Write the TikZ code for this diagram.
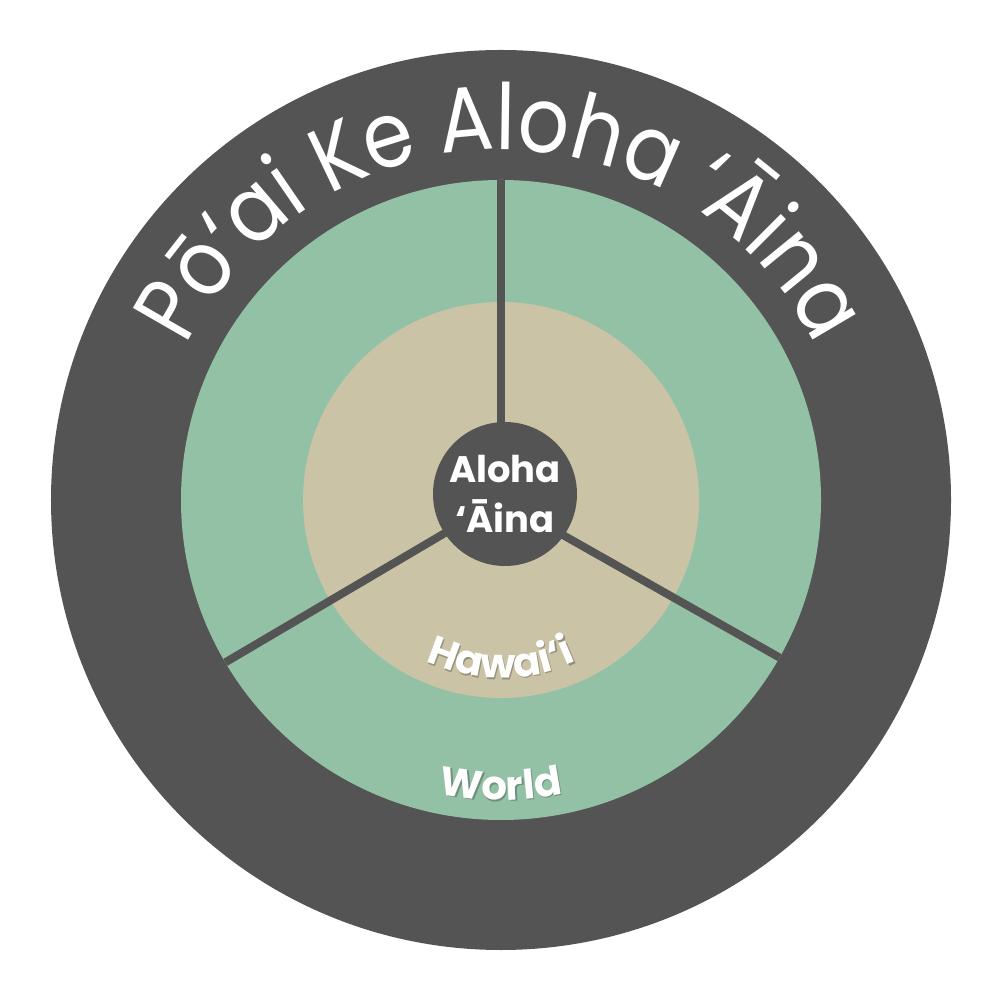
\documentclass[tikz,border=0pt]{standalone}
\usepackage{fontspec}
\setmainfont{Poppins}
\newfontfamily\titlefont[FakeStretch=0.88]{Poppins}
\usetikzlibrary{decorations.text}
\definecolor{ringdark}{HTML}{545454}
\definecolor{worldgreen}{HTML}{93C1A5}
\definecolor{hawaiibeige}{HTML}{CAC3A6}
\begin{document}
\begin{tikzpicture}[
  disc/.style={circle, inner sep=0pt, minimum size=#1},
  spoke/.style={draw=ringdark, line width=0.08cm},
  arctext/.style={decorate, decoration={text along path, text align=center, text={#1}}}
]
\useasboundingbox (-5.01,-5.00) rectangle (4.99,5.00);
\node[disc=9cm, fill=ringdark] (outer) at (0,0) {};
\node[disc=6.4cm, fill=worldgreen] (world) at (0,0) {};
\node[disc=3.96cm, fill=hawaiibeige] (hawaii) at (0,0) {};
\coordinate (hub) at (0,0);
\coordinate (s1) at (90:3.2);
\coordinate (s2) at (210.5:3.2);
\coordinate (s3) at (330.5:3.2);
\draw[spoke] (hub) -- (s1);
\draw[spoke] (hub) -- (s2);
\draw[spoke] (hub) -- (s3);
\node[disc=1.44cm, fill=ringdark, text=white, align=center,
      font=\bfseries\fontsize{10.5}{14.2}\selectfont] (core) at (0.04,0.06) {Aloha\\‘Āina};
% title
\path[arctext={|\titlefont\fontsize{26}{30}\selectfont\color{white}|Pō‘ai Ke Aloha ‘Āina}]
  (175:3.5) arc[start angle=175, end angle=5, radius=3.5];
% shadows
\begin{scope}[opacity=0.25, shift={(0.015,-0.015)}]
\path[arctext={|\bfseries\fontsize{11.5}{14}\selectfont\color{black}|Hawai‘i}]
  (200:1.78) arc[start angle=200, end angle=340, radius=1.78];
\path[arctext={|\bfseries\fontsize{11.5}{14}\selectfont\color{black}|World}]
  (200:3.0) arc[start angle=200, end angle=340, radius=3.0];
\end{scope}
\path[arctext={|\bfseries\fontsize{11.5}{14}\selectfont\color{white}|Hawai‘i}]
  (200:1.78) arc[start angle=200, end angle=340, radius=1.78];
\path[arctext={|\bfseries\fontsize{11.5}{14}\selectfont\color{white}|World}]
  (200:3.0) arc[start angle=200, end angle=340, radius=3.0];
\end{tikzpicture}
\end{document}
